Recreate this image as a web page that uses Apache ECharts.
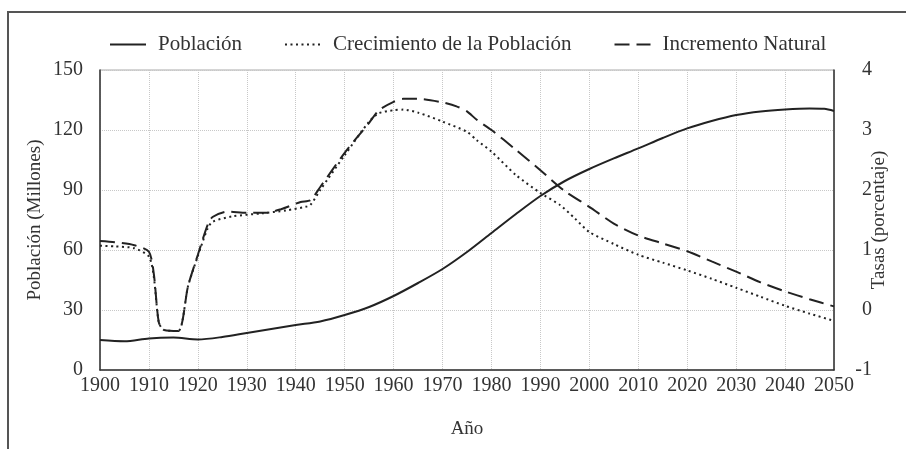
<!DOCTYPE html>
<html>
<head>
<meta charset="utf-8">
<script src="https://cdn.jsdelivr.net/npm/echarts@6/dist/echarts.min.js"></script>
<style>
  html, body { margin: 0; padding: 0; background: #fff; }
  #main { width: 906px; height: 449px; }
</style>
</head>
<body>
<div id="main"></div>
<script>
// datos
var popYears = [1900, 1905, 1910, 1915, 1920, 1925, 1930, 1935, 1940, 1945, 1950, 1955, 1960, 1965, 1970, 1975, 1980, 1985, 1990, 1995, 2000, 2005, 2010, 2015, 2020, 2025, 2030, 2035, 2040, 2045, 2048, 2050];
var popValues = [15, 14.4, 15.8, 16.2, 15.3, 16.5, 18.5, 20.5, 22.5, 24.3, 27.5, 31.5, 37, 43.5, 50.5, 59, 68.5, 78, 87, 94.5, 100.5, 105.8, 110.8, 116, 120.8, 124.5, 127.5, 129.3, 130.3, 130.8, 130.6, 129.5];

var naturalYears = [1900, 1903, 1907, 1910, 1911, 1912, 1913, 1916, 1918, 1920, 1922, 1923, 1926, 1930, 1934, 1937, 1941, 1943, 1945, 1950, 1955, 1957, 1960, 1962, 1965, 1970, 1973, 1975, 1977, 1980, 1985, 1990, 1995, 2000, 2005, 2010, 2015, 2020, 2025, 2030, 2035, 2040, 2045, 2050];
var naturalValues = [1.15, 1.13, 1.08, 0.97, 0.6, -0.2, -0.33, -0.35, 0.4, 0.92, 1.42, 1.55, 1.64, 1.62, 1.62, 1.68, 1.8, 1.83, 2.05, 2.62, 3.12, 3.33, 3.47, 3.52, 3.52, 3.46, 3.39, 3.31, 3.17, 3.0, 2.67, 2.33, 1.98, 1.72, 1.44, 1.24, 1.11, 0.98, 0.81, 0.64, 0.46, 0.31, 0.18, 0.06];

var growthYears = [1900, 1903, 1907, 1910, 1911, 1912, 1913, 1916, 1918, 1920, 1922, 1923, 1927, 1933, 1938, 1942, 1943, 1945, 1950, 1955, 1957, 1960, 1962, 1965, 1970, 1975, 1977, 1980, 1985, 1990, 1994, 1997, 2000, 2005, 2010, 2015, 2020, 2025, 2030, 2035, 2040, 2045, 2050];
var growthValues = [1.07, 1.06, 1.03, 0.89, 0.55, -0.2, -0.33, -0.35, 0.4, 0.9, 1.36, 1.47, 1.56, 1.61, 1.66, 1.72, 1.75, 2.0, 2.58, 3.14, 3.28, 3.33, 3.34, 3.29, 3.14, 2.97, 2.83, 2.64, 2.25, 1.95, 1.75, 1.53, 1.3, 1.1, 0.92, 0.79, 0.66, 0.52, 0.37, 0.22, 0.07, -0.06, -0.18];

var leftTicks = { min: 0, max: 150, interval: 30 };
var rightTicks = { min: -1, max: 4, interval: 1 };

function pairs(xs, ys) {
  return xs.map(function (x, i) { return [x, ys[i]]; });
}

var font = 'Liberation Serif';
var chart = echarts.init(document.getElementById('main'));

var gridLine = { show: true, lineStyle: { color: '#c8c8c8', type: 'dotted', width: 1 } };

chart.setOption({
  backgroundColor: '#fff',
  animation: false,
  textStyle: { fontFamily: font, color: '#333' },
  graphic: [
    { type: 'polyline', shape: { points: [[8, 449], [8, 12], [906, 12]] }, style: { stroke: '#555', lineWidth: 2, fill: null } }
  ],
  legend: {
    left: 104,
    top: 29,
    itemWidth: 36,
    itemHeight: 14,
    itemGap: 42,
    itemStyle: { opacity: 0 },
    textStyle: { fontFamily: font, fontSize: 21, color: '#333', padding: [0, 0, 0, 7] },
    data: ['Población', 'Crecimiento de la Población', 'Incremento Natural']
  },
  grid: {
    left: 100, right: 72, top: 70, bottom: 79,
    outerBoundsMode: 'none',
    show: true, borderColor: '#aaa', borderWidth: 1
  },
  xAxis: {
    type: 'value',
    min: 1900,
    max: 2050,
    interval: 10,
    name: 'Año',
    nameLocation: 'middle',
    nameGap: 50,
    nameMoveOverlap: false,
    nameTextStyle: { fontFamily: font, fontSize: 19, color: '#333' },
    axisLine: { show: true, lineStyle: { color: '#333', width: 1.5 } },
    axisTick: { show: false },
    axisLabel: { fontFamily: font, fontSize: 20, color: '#333', margin: 6, formatter: function (v) { return String(v); } },
    splitLine: gridLine
  },
  yAxis: [
    {
      type: 'value',
      min: leftTicks.min,
      max: leftTicks.max,
      interval: leftTicks.interval,
      name: 'Población (Millones)',
      nameLocation: 'middle',
      nameGap: 55,
      nameMoveOverlap: false,
      nameTextStyle: { fontFamily: font, fontSize: 19, color: '#333' },
      axisLine: { show: true, lineStyle: { color: '#333', width: 1.5 } },
      axisTick: { show: false },
      axisLabel: { fontFamily: font, fontSize: 20, color: '#333', margin: 17 },
      splitLine: gridLine
    },
    {
      type: 'value',
      min: rightTicks.min,
      max: rightTicks.max,
      interval: rightTicks.interval,
      name: 'Tasas (porcentaje)',
      nameLocation: 'middle',
      nameGap: 36,
      nameRotate: 90,
      nameMoveOverlap: false,
      nameTextStyle: { fontFamily: font, fontSize: 19, color: '#333' },
      axisLine: { show: true, lineStyle: { color: '#333', width: 1.5 } },
      axisTick: { show: false },
      axisLabel: { fontFamily: font, fontSize: 20, color: '#333', margin: 38, align: 'right' },
      splitLine: { show: false }
    }
  ],
  series: [
    {
      name: 'Población',
      type: 'line',
      yAxisIndex: 0,
      smooth: 0.3,
      symbol: 'none',
      lineStyle: { color: '#222', width: 2, type: 'solid' },
      itemStyle: { color: '#222' },
      data: pairs(popYears, popValues)
    },
    {
      name: 'Crecimiento de la Población',
      type: 'line',
      yAxisIndex: 1,
      smooth: 0.25,
      symbol: 'none',
      lineStyle: { color: '#222', width: 2, type: [2, 3.5] },
      itemStyle: { color: '#222' },
      data: pairs(growthYears, growthValues)
    },
    {
      name: 'Incremento Natural',
      type: 'line',
      yAxisIndex: 1,
      smooth: 0.25,
      symbol: 'none',
      lineStyle: { color: '#222', width: 2, type: [15, 7] },
      itemStyle: { color: '#222' },
      data: pairs(naturalYears, naturalValues)
    }
  ]
});
</script>
</body>
</html>
